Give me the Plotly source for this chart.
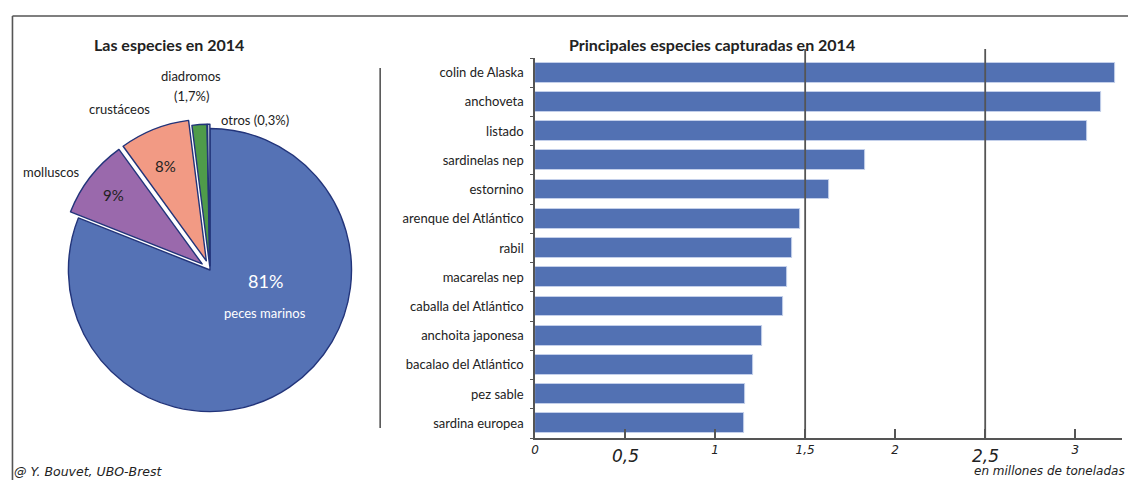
import plotly.graph_objects as go

# --- data -----------------------------------------------------------------
group_names = ["peces marinos", "molluscos", "crustáceos", "diadromos", "otros"]
group_shares = [81, 9, 8, 1.7, 0.3]
group_colors = ["#5572b5", "#9a69ac", "#f29a84", "#4f9b4a", "#b3bacd"]
group_pull = [0, 0.07, 0.07, 0.03, 0.03]

species = [
    "colin de Alaska", "anchoveta", "listado", "sardinelas nep", "estornino",
    "arenque del Atlántico", "rabil", "macarelas nep", "caballa del Atlántico",
    "anchoita japonesa", "bacalao del Atlántico", "pez sable", "sardina europea",
]
catch_mt = [3.22, 3.145, 3.065, 1.835, 1.635, 1.47, 1.425, 1.40, 1.378,
            1.263, 1.21, 1.165, 1.162]

x_ticks = [0, 0.5, 1, 1.5, 2, 2.5, 3]
x_small_labels = ["0", "", "1", "1,5", "2", "", "3"]
x_big_labels = {0.5: "0,5", 2.5: "2,5"}
grid_at = [1.5, 2.5]

W, H = 1128, 480
def px(x):
    return x / W
def py(y):
    return 1 - y / H

LINE = "#555555"
TEXT = "#222222"
SANS = "Lato, 'Open Sans', sans-serif"
ITAL = "'DejaVu Sans', Verdana, sans-serif"

fig = go.Figure()

# --- pie ------------------------------------------------------------------
fig.add_trace(go.Pie(
    labels=group_names, values=group_shares, sort=False, direction="clockwise",
    rotation=0, pull=group_pull, textinfo="none", hoverinfo="label+percent",
    marker=dict(colors=group_colors, line=dict(color="#22347a", width=1.4)),
    domain=dict(x=[px(54.7), px(358.7)], y=[py(422), py(118)]),
    showlegend=False,
))

# --- bars -----------------------------------------------------------------
fig.add_trace(go.Bar(
    x=catch_mt[::-1], y=species[::-1], orientation="h", width=0.68,
    marker=dict(color="#5271b3", line=dict(color="#c3cfea", width=1)),
    showlegend=False, xaxis="x", yaxis="y",
))

fig.update_layout(
    width=W, height=H, margin=dict(l=0, r=0, t=0, b=0),
    paper_bgcolor="white", plot_bgcolor="white",
    xaxis=dict(
        domain=[px(533), px(1122)], range=[0, 3.26], anchor="y",
        tickvals=x_ticks, ticktext=x_small_labels, showgrid=False,
        zeroline=False, showline=True, linecolor=LINE, linewidth=1.6,
        ticks="inside", ticklen=9, tickwidth=1.6, tickcolor=LINE,
        tickfont=dict(family=ITAL, size=12, color=TEXT, style="italic"),
    ),
    yaxis=dict(
        domain=[py(438), py(58)], range=[-0.5, 12.5], anchor="x",
        type="category", showgrid=False, zeroline=False,
        showline=True, linecolor=LINE, linewidth=1.6,
        ticks="outside", ticklen=3, tickcolor=LINE, tickson="boundaries",
        ticklabelstandoff=7,
        tickfont=dict(family=SANS, size=13, color=TEXT),
    ),
    bargap=0,
)

shapes = []
# vertical reference lines above the bars
for g in grid_at:
    shapes.append(dict(type="line", xref="x", yref="paper", x0=g, x1=g,
                       y0=py(438), y1=py(49), line=dict(color=LINE, width=1.8),
                       layer="above"))
# frame and divider
shapes.append(dict(type="line", xref="paper", yref="paper", x0=px(8.5), x1=1.0,
                   y0=py(16), y1=py(16), line=dict(color=LINE, width=1.6)))
shapes.append(dict(type="line", xref="paper", yref="paper", x0=px(8.5), x1=px(8.5),
                   y0=py(16), y1=0, line=dict(color=LINE, width=1.6)))
shapes.append(dict(type="line", xref="paper", yref="paper", x0=px(377.5), x1=px(377.5),
                   y0=py(68), y1=py(428), line=dict(color=LINE, width=1.6)))
fig.update_layout(shapes=shapes)

def fmt(v):
    return f"{v:g}".replace(".", ",") + "%"

ann = []
def note(x, y, text, size=12, color=TEXT, family=SANS, bold=False, italic=False,
         xanchor="center", xref="paper"):
    ann.append(dict(
        x=x if xref != "paper" else px(x), y=py(y), xref=xref, yref="paper",
        text=f"<b>{text}</b>" if bold else text, showarrow=False,
        xanchor=xanchor, yanchor="middle",
        font=dict(family=family, size=size, color=color,
                  style="italic" if italic else "normal"),
    ))

# titles
note(166, 44, "Las especies en 2014", size=16, bold=True)
note(711, 44, "Principales especies capturadas en 2014", size=16, bold=True)

# pie labels
note(262, 281, fmt(group_shares[0]), size=18, color="white")
note(262, 313, group_names[0], size=13, color="white")
note(110, 195, fmt(group_shares[1]), size=15)
note(162, 166, fmt(group_shares[2]), size=15)
note(48, 172, group_names[1], size=13)
note(116, 109, group_names[2], size=13)
note(188, 76, group_names[3], size=13)
note(188, 96, "(" + fmt(group_shares[3]) + ")", size=13)
note(216, 120, group_names[4] + " (" + fmt(group_shares[4]) + ")", size=13, xanchor="left")

# larger tick labels at the reference lines
for v, t in x_big_labels.items():
    note(v, 456, t, size=17, family=ITAL, italic=True, xref="x")

note(1127, 471, "en millones de toneladas", size=12, family=ITAL, italic=True, xanchor="right")
note(8, 471, "@ Y. Bouvet, UBO-Brest", size=12.5, family=ITAL, italic=True, xanchor="left")

fig.update_layout(annotations=ann)

fig.write_html("out.html")
